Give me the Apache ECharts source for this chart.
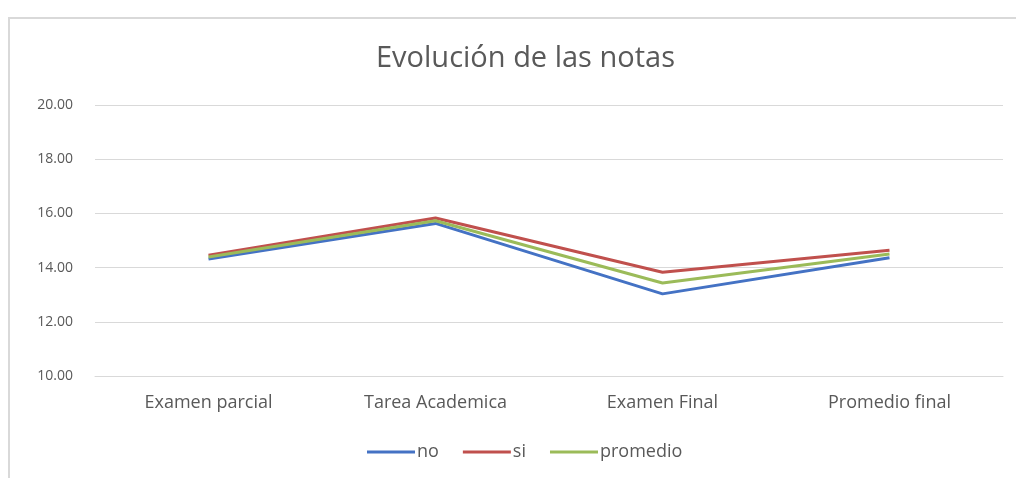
<!DOCTYPE html>
<html>
<head>
<meta charset="utf-8">
<script src="https://cdn.jsdelivr.net/npm/echarts@6/dist/echarts.min.js"></script>
<style>
  html, body { margin: 0; padding: 0; background: #fff; }
  #main { width: 1016px; height: 478px; }
</style>
</head>
<body>
<div id="main"></div>
<script>
// datos
const categorias = ['Examen parcial', 'Tarea Academica', 'Examen Final', 'Promedio final'];
const notasNo = [14.32, 15.63, 13.03, 14.36];
const notasSi = [14.46, 15.83, 13.83, 14.64];
const notasPromedio = [14.39, 15.73, 13.43, 14.50];
const ticksY = [10, 12, 14, 16, 18, 20];

const chart = echarts.init(document.getElementById('main'));

const fuente = 'Open Sans';
const gris = '#595959';

function serie(nombre, datos, color) {
    return {
        name: nombre,
        type: 'line',
        data: datos,
        symbol: 'none',
        lineStyle: { color: color, width: 3 },
        itemStyle: { color: color }
    };
}

const option = {
    backgroundColor: '#fff',
    animation: false,
    // marco del grafico (como en Excel)
    graphic: [{
        type: 'rect',
        shape: { x: 9, y: 18, width: 1100, height: 600 },
        style: { fill: 'none', stroke: '#d9d9d9', lineWidth: 2 },
        silent: true
    }],
    title: {
        text: 'Evolución de las notas',
        left: 371,
        top: 39,
        textStyle: { fontFamily: fuente, fontSize: 29, fontWeight: 'normal', color: gris }
    },
    legend: {
        bottom: 12,
        left: 362,
        icon: 'rect',
        itemWidth: 48,
        itemHeight: 3,
        itemGap: 24,
        textStyle: { fontFamily: fuente, fontSize: 18, color: gris, padding: [0, 0, 0, -3] },
        data: ['no', 'si', 'promedio']
    },
    grid: { left: 95, right: 13, top: 105, bottom: 102 },
    xAxis: {
        type: 'category',
        data: categorias,
        boundaryGap: true,
        axisLine: { show: true, lineStyle: { color: '#d9d9d9' } },
        axisTick: { show: false },
        axisLabel: { fontFamily: fuente, fontSize: 18, color: gris, margin: 18 }
    },
    yAxis: {
        type: 'value',
        min: ticksY[0],
        max: ticksY[ticksY.length - 1],
        interval: 2,
        axisLine: { show: false },
        axisTick: { show: false },
        splitLine: { lineStyle: { color: '#d9d9d9', width: 1 } },
        axisLabel: {
            fontFamily: fuente, fontSize: 14, color: gris, margin: 22,
            formatter: v => v.toFixed(2)
        }
    },
    series: [
        serie('no', notasNo, '#4472C4'),
        serie('si', notasSi, '#C0504D'),
        serie('promedio', notasPromedio, '#9BBB59')
    ]
};

option && chart.setOption(option);
</script>
</body>
</html>
